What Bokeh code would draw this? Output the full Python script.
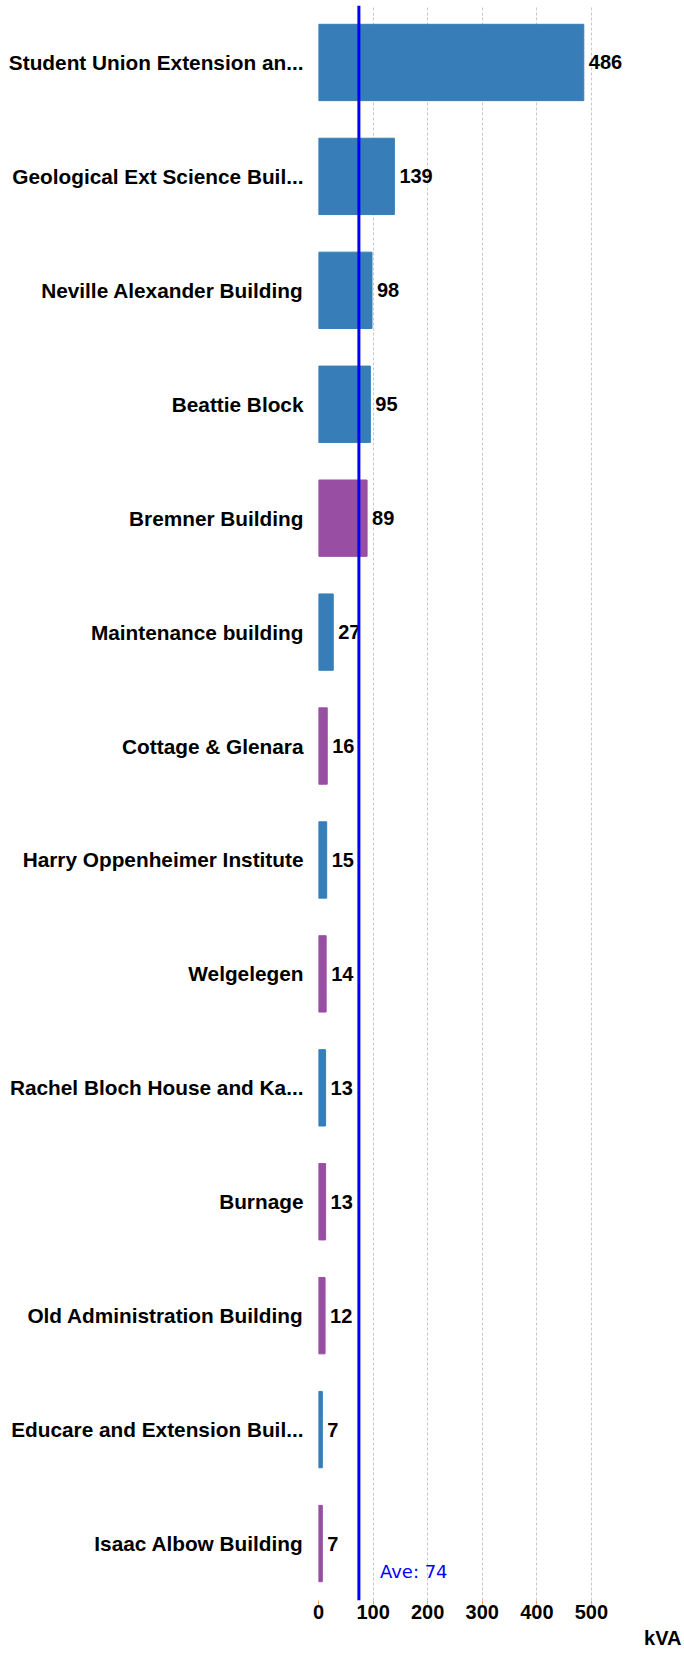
from bokeh.plotting import figure
from bokeh.models import ColumnDataSource, FactorRange, Range1d, FixedTicker, Span, Title
from bokeh.core.properties import value
from bokeh.embed import file_html
from bokeh.resources import INLINE

buildings = [
    "Student Union Extension an...",
    "Geological Ext Science Buil...",
    "Neville Alexander Building",
    "Beattie Block",
    "Bremner Building",
    "Maintenance building",
    "Cottage & Glenara",
    "Harry Oppenheimer Institute",
    "Welgelegen",
    "Rachel Bloch House and Ka...",
    "Burnage",
    "Old Administration Building",
    "Educare and Extension Buil...",
    "Isaac Albow Building",
]
kva = [486, 139, 98, 95, 89, 27, 16, 15, 14, 13, 13, 12, 7, 7]
groups = ["A", "A", "A", "A", "B", "A", "B", "A", "B", "A", "B", "B", "A", "B"]
average = 74
x_ticks = [0, 100, 200, 300, 400, 500]
axis_title = "kVA"

group_colors = {"A": "#377eb8", "B": "#984ea3"}

src = ColumnDataSource(dict(
    name=buildings,
    kva=kva,
    color=[group_colors[g] for g in groups],
    label=[str(v) for v in kva],
))

p = figure(
    width=684, height=1654,
    y_range=FactorRange(*reversed(buildings)),
    x_range=Range1d(0, 665),
    output_backend="svg", toolbar_location=None,
    min_border_left=318, min_border_right=3, min_border_top=5, min_border_bottom=54,
)
p.outline_line_color = None
p.background_fill_color = "white"
p.border_fill_color = "white"

p.hbar(y="name", right="kva", left=0, height=0.67, color="color", source=src,
       line_color="color", line_width=1)

p.text(x="kva", y="name", text="label", source=src, x_offset=5,
       text_baseline="middle", text_align="left",
       text_font=value("Liberation Sans"), text_font_style="bold",
       text_font_size="20px", text_color="#000000")

avg_line = Span(location=average, dimension="height", line_color="#0000ff", line_width=3)
p.add_layout(avg_line)
p.text(x=[average], y=[buildings[-1]], text=[f"Ave: {average}"], x_offset=21, y_offset=28,
       text_color="#0000ff", text_font=value("DejaVu Sans"), text_font_size="18px",
       text_baseline="middle", text_align="left")

# x axis
p.xaxis.ticker = FixedTicker(ticks=x_ticks)
p.xaxis.axis_line_color = None
p.xaxis.major_tick_line_color = "#f0a060"
p.xaxis.major_tick_in = 0
p.xaxis.major_tick_out = 4
p.xaxis.minor_tick_line_color = None
p.xaxis.major_label_standoff = 0
p.xaxis.major_label_text_font = "Liberation Sans"
p.xaxis.major_label_text_font_style = "bold"
p.xaxis.major_label_text_font_size = "20px"
p.xaxis.major_label_text_color = "#000000"

p.xgrid.ticker = FixedTicker(ticks=x_ticks)
p.xgrid.grid_line_color = "#c8c8c8"
p.xgrid.grid_line_dash = "3 2"
p.xgrid.grid_line_width = 1
p.ygrid.grid_line_color = None

# y axis
p.yaxis.axis_line_color = None
p.yaxis.major_tick_line_color = None
p.yaxis.minor_tick_line_color = None
p.yaxis.major_label_standoff = 9
p.yaxis.major_label_text_font = "Liberation Sans"
p.yaxis.major_label_text_font_style = "bold"
p.yaxis.major_label_text_font_size = "20.8px"
p.yaxis.major_label_text_color = "#000000"

p.add_layout(Title(text=axis_title, align="right", text_font="Liberation Sans",
                   text_font_style="bold", text_font_size="20px",
                   text_color="#000000", standoff=6, offset=0), "below")

open("out.html", "w").write(file_html(p, INLINE))
